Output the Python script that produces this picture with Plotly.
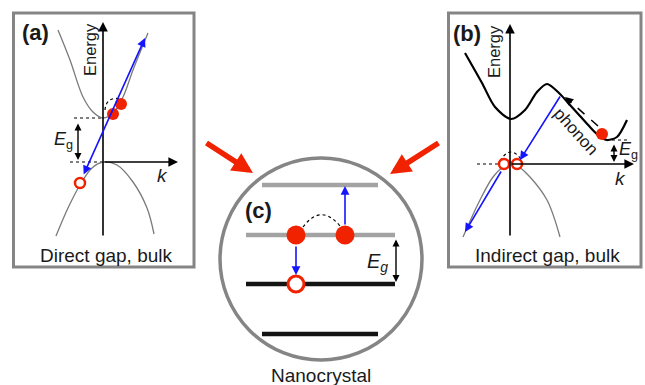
import plotly.graph_objects as go

W, H = 645, 385
FONT = "Liberation Sans, Arial, sans-serif"
RED = "#f02200"
BLUE = "#1414ff"
GREY_BOX = "#858585"
GREY_BAND = "#7a7a7a"

# ---------------- panel (a): direct gap ----------------
a_box = [13.5, 13, 194, 267]
a_axis_x = 103
a_axis_ytop, a_axis_ybot = 22, 237
a_kaxis_y = 162
a_kaxis_x0, a_kaxis_x1 = 103, 178
a_cb_x = [58, 70, 83, 93, 103, 113, 123, 133, 148]
a_cb_y = [30, 60, 97, 112, 118, 113, 97, 70, 33]
a_vb_x = [56, 68, 80, 92, 103, 117, 133, 147, 154]
a_vb_y = [236, 208, 185, 168, 162, 165, 182, 208, 234]
a_elec_x = [113, 121]
a_elec_y = [114, 104]
a_hole_x = [80]
a_hole_y = [183]
a_blue = [83, 176, 145, 38]         # x0, y0, x1, y1 (double headed)
a_eg = [78, 122, 78, 160]
a_dot_cb = [74, 118, 103, 118]
a_dot_vb = [70, 162, 103, 162]
a_arc = "M 105 110 Q 106 96 121 99"

# ---------------- panel (b): indirect gap ----------------
b_box = [448.5, 13, 641, 267]
b_axis_x = 510
b_axis_ytop, b_axis_ybot = 24, 237
b_kaxis_y = 164
b_kaxis_x0, b_kaxis_x1 = 510, 634
b_cb_x = [465, 482, 495, 511, 525, 537, 547, 560, 570, 580, 590, 598, 607, 617, 627]
b_cb_y = [53, 83, 107, 119, 110, 92, 84, 94, 105, 116, 127, 135, 140, 137, 120]
b_vb_x = [463, 480, 493, 504, 511, 518, 530, 547, 560]
b_vb_y = [237, 200, 177, 166, 162, 166, 177, 200, 237]
b_elec_x = [602]
b_elec_y = [134]
b_hole_x = [504, 517]
b_hole_y = [164, 164]
b_blue1 = [561, 95, 520, 160]
b_blue2 = [502, 170, 465, 232]
b_phonon = [598, 126, 565, 97]
b_eg = [614, 143, 614, 162]
b_dot_cb = [606, 140, 628, 140]
b_dot_vb = [477, 164, 500, 164]
b_arc = "M 500 161 Q 511 143 522 161"

# ---------------- panel (c): nanocrystal ----------------
c_circle = [220, 158, 422, 360]
c_levels_y = [185, 235, 284, 334]
c_levels_x0 = [262, 246, 246, 262]
c_levels_x1 = [378, 395, 395, 378]
c_levels_col = ["#a3a3a3", "#a3a3a3", "#141414", "#141414"]
c_elec_x = [296, 345]
c_elec_y = [235, 235]
c_hole_x = [296]
c_hole_y = [284]
c_blue_up = [345, 226, 345, 186]
c_blue_down = [296, 245, 296, 275]
c_eg = [396, 238, 396, 282]
c_arc = "M 303 227 Q 321 203 340 226"

# big red arrows
red_arrows = [[205, 142, 253, 173], [440, 142, 390, 174]]

# text labels: (text, x, y, size, angle)
labels = [
    ("<b>(a)</b>", 35, 32, 22, 0),
    ("<b>(b)</b>", 467, 33, 22, 0),
    ("<b>(c)</b>", 258, 210, 22, 0),
    ("Energy", 90, 50, 16.5, -90),
    ("Energy", 494, 52, 16.5, -90),
    ("<i>k</i>", 162, 175, 19, 0),
    ("<i>k</i>", 620, 178, 19, 0),
    ("<i>E</i><sub>g</sub>", 63, 140, 18, 0),
    ("<i>E</i><sub>g</sub>", 628, 150, 18, 0),
    ("<i>E<sub>g</sub></i>", 377, 262, 20, 0),
    ("phonon", 576, 131, 17, 48),
    ("Direct gap, bulk", 106, 255, 19, 0),
    ("Indirect gap, bulk", 547, 255, 19, 0),
    ("Nanocrystal", 321, 375, 19, 0),
]

fig = go.Figure()
shapes = []
ann = []


def line(seg, color, width, dash="solid", layer="below"):
    shapes.append(dict(type="line", xref="x", yref="y", x0=seg[0], y0=seg[1],
                       x1=seg[2], y1=seg[3], line=dict(color=color, width=width, dash=dash),
                       layer=layer))


def arrow(seg, color, width, size, head=2, both=False):
    ann.append(dict(x=seg[2], y=seg[3], ax=seg[0], ay=seg[1], xref="x", yref="y",
                    axref="x", ayref="y", text="", showarrow=True, arrowhead=head,
                    arrowsize=size, arrowwidth=width, arrowcolor=color,
                    startarrowhead=head, startarrowsize=size,
                    arrowside="end+start" if both else "end"))


# boxes
for b in (a_box, b_box):
    shapes.append(dict(type="rect", xref="x", yref="y", x0=b[0], y0=b[1], x1=b[2], y1=b[3],
                       line=dict(color=GREY_BOX, width=3), layer="below"))

# axes
arrow([a_axis_x, a_axis_ybot, a_axis_x, a_axis_ytop], "black", 1.6, 1.2)
arrow([a_kaxis_x0, a_kaxis_y, a_kaxis_x1, a_kaxis_y], "black", 1.6, 1.2)
arrow([b_axis_x, b_axis_ybot, b_axis_x, b_axis_ytop], "black", 1.6, 1.2)
arrow([b_kaxis_x0, b_kaxis_y, b_kaxis_x1, b_kaxis_y], "black", 1.6, 1.2)

# dotted guides
for seg in (a_dot_cb, a_dot_vb, b_dot_cb, b_dot_vb):
    line(seg, "black", 1.2, "dot")
for p in (a_arc, b_arc, c_arc):
    shapes.append(dict(type="path", xref="x", yref="y", path=p,
                       line=dict(color="black", width=1.2, dash="dot"), layer="below"))

# bands
fig.add_trace(go.Scatter(x=a_cb_x, y=a_cb_y, mode="lines", line=dict(color=GREY_BAND, width=1.3, shape="spline")))
fig.add_trace(go.Scatter(x=a_vb_x, y=a_vb_y, mode="lines", line=dict(color=GREY_BAND, width=1.3, shape="spline")))
fig.add_trace(go.Scatter(x=b_cb_x, y=b_cb_y, mode="lines", line=dict(color="black", width=2.2, shape="spline", smoothing=0.8)))
fig.add_trace(go.Scatter(x=b_vb_x, y=b_vb_y, mode="lines", line=dict(color=GREY_BAND, width=1.3, shape="spline")))

# nanocrystal circle and levels
shapes.append(dict(type="circle", xref="x", yref="y", x0=c_circle[0], y0=c_circle[1],
                   x1=c_circle[2], y1=c_circle[3], line=dict(color=GREY_BOX, width=3.5), layer="below"))
for y, x0, x1, col in zip(c_levels_y, c_levels_x0, c_levels_x1, c_levels_col):
    line([x0, y, x1, y], col, 4.5)

# phonon dashed line with arrow head
line([b_phonon[0], b_phonon[1], b_phonon[2] + 4, b_phonon[3] + 3.5], "black", 1.5, "dash", "above")
arrow([b_phonon[2] + 8, b_phonon[3] + 7.0, b_phonon[2], b_phonon[3]], "black", 1.5, 1.1)

# blue arrows
arrow(a_blue, BLUE, 1.6, 1.1, both=True)
arrow(b_blue1, BLUE, 1.6, 1.1)
arrow(b_blue2, BLUE, 1.6, 1.1)
arrow(c_blue_up, BLUE, 1.6, 1.1)
arrow(c_blue_down, BLUE, 1.6, 1.1)

# Eg arrows
arrow(a_eg, "black", 1.4, 1.0, both=True)
arrow(b_eg, "black", 1.4, 1.0, both=True)
arrow(c_eg, "black", 1.4, 1.0, both=True)

# red arrows
for r in red_arrows:
    arrow(r, RED, 5.5, 0.75)

# carriers
fig.add_trace(go.Scatter(x=a_elec_x + b_elec_x, y=a_elec_y + b_elec_y, mode="markers",
                         marker=dict(size=12, color=RED, line=dict(width=0))))
fig.add_trace(go.Scatter(x=a_hole_x + b_hole_x, y=a_hole_y + b_hole_y, mode="markers",
                         marker=dict(size=10, color="white", line=dict(color=RED, width=2.5))))
fig.add_trace(go.Scatter(x=c_elec_x, y=c_elec_y, mode="markers",
                         marker=dict(size=19, color=RED, line=dict(width=0))))
fig.add_trace(go.Scatter(x=c_hole_x, y=c_hole_y, mode="markers",
                         marker=dict(size=16, color="white", line=dict(color=RED, width=3))))

for t, x, y, s, ang in labels:
    ann.append(dict(x=x, y=y, xref="x", yref="y", text=t, showarrow=False,
                    xanchor="center", yanchor="middle", textangle=ang,
                    font=dict(family=FONT, size=s, color="#1a1a1a")))

fig.update_layout(
    width=W, height=H, autosize=False,
    margin=dict(l=0, r=0, t=0, b=0, pad=0),
    paper_bgcolor="white", plot_bgcolor="white",
    showlegend=False, shapes=shapes, annotations=ann,
    xaxis=dict(range=[0, W], visible=False, fixedrange=True),
    yaxis=dict(range=[H, 0], visible=False, fixedrange=True),
)
fig.write_html("out.html", config={"displayModeBar": False})
